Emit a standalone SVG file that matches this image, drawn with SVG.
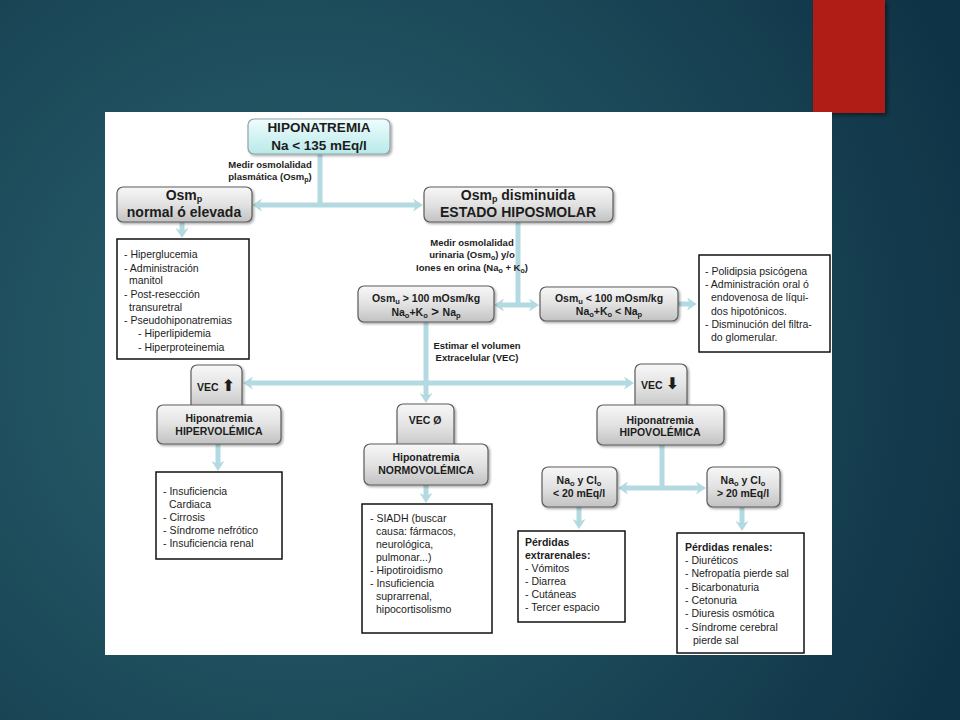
<svg xmlns="http://www.w3.org/2000/svg" width="960" height="720" viewBox="0 0 960 720">
<defs>
<radialGradient id="bg" cx="300" cy="360" r="720" gradientUnits="userSpaceOnUse">
<stop offset="0" stop-color="#2b6470"/>
<stop offset="1" stop-color="#0f3346"/>
</radialGradient>
<linearGradient id="gg" x1="0" y1="0" x2="0" y2="1">
<stop offset="0" stop-color="#f7f7f7"/>
<stop offset="0.5" stop-color="#e2e2e2"/>
<stop offset="1" stop-color="#c2c2c2"/>
</linearGradient>
<linearGradient id="cg" x1="0" y1="0" x2="0" y2="1">
<stop offset="0" stop-color="#effcfc"/>
<stop offset="1" stop-color="#b9e9ea"/>
</linearGradient>
<filter id="sh" x="-10%" y="-10%" width="125%" height="130%">
<feDropShadow dx="1.5" dy="1.5" stdDeviation="1.2" flood-color="#000" flood-opacity="0.35"/>
</filter>
<filter id="rsh" x="-20%" y="-10%" width="140%" height="130%">
<feDropShadow dx="2" dy="2" stdDeviation="2" flood-color="#000" flood-opacity="0.5"/>
</filter>
<marker id="ah" viewBox="0 0 10 13" refX="3" refY="6.5" markerWidth="10" markerHeight="13" markerUnits="userSpaceOnUse" orient="auto">
<path d="M0,0 L10,6.5 L0,13 L3,6.5 z" fill="#b3dae1"/>
</marker>
<style>
.bx{fill:url(#gg);stroke:#5c5c5c;stroke-width:1.2;filter:url(#sh)}
.cy{fill:url(#cg);stroke:#8fa3a5;stroke-width:1.2;filter:url(#sh)}
.ls{fill:#fff;stroke:#111;stroke-width:1.5}
.cn{stroke:#b3dae1;stroke-width:5;fill:none}
.ca{stroke:#b3dae1;stroke-width:5;fill:none;marker-end:url(#ah)}
text{font-family:"Liberation Sans",Arial,sans-serif;fill:#1c1c1c}
.h14{font-size:14px;font-weight:bold;text-anchor:middle}
.h13{font-size:13.5px;font-weight:bold;text-anchor:middle}
.h10{font-size:10.5px;font-weight:bold;text-anchor:middle}
.h9{font-size:9.5px;font-weight:bold;text-anchor:middle}
.t{font-size:10.5px}
.tb{font-size:10.5px;font-weight:bold}
.ar{font-family:"DejaVu Sans",sans-serif;font-size:16px}
</style>
</defs>
<rect width="960" height="720" fill="url(#bg)"/>
<rect x="813" y="0" width="72" height="113" fill="#b01a18" filter="url(#rsh)"/>
<rect x="105" y="112" width="727" height="543" fill="#ffffff"/>

<g id="connectors">
<path class="cn" d="M320,154 V205"/>
<path class="ca" d="M320,205 H259"/>
<path class="ca" d="M320,205 H416"/>
<path class="ca" d="M182,222 V231"/>
<path class="cn" d="M518,222 V305"/>
<path class="ca" d="M518,305 H501"/>
<path class="ca" d="M518,305 H532"/>
<path class="ca" d="M678,304 H690"/>
<path class="ca" d="M426,322 V396"/>
<path class="ca" d="M426,383 H250"/>
<path class="ca" d="M426,383 H627"/>
<path class="ca" d="M218,444 V464"/>
<path class="ca" d="M426,485 V496"/>
<path class="cn" d="M662,445 V488"/>
<path class="ca" d="M662,488 H625"/>
<path class="ca" d="M662,488 H699"/>
<path class="ca" d="M579,507 V522"/>
<path class="ca" d="M742,507 V524"/>
</g>

<g id="lbl-plasma">
<text class="h9" x="270" y="168">Medir osmolalidad</text>
<text class="h9" x="270" y="180">plasmática (Osm<tspan dy="2" font-size="7">p</tspan><tspan dy="-2">)</tspan></text>
</g>
<g id="lbl-urinaria">
<text class="h9" x="472" y="246">Medir osmolalidad</text>
<text class="h9" x="472" y="258">urinaria (Osm<tspan dy="2" font-size="7">o</tspan><tspan dy="-2">) y/o</tspan></text>
<text class="h9" x="472" y="271">Iones en orina (Na<tspan dy="2" font-size="7">o</tspan><tspan dy="-2"> + K</tspan><tspan dy="2" font-size="7">o</tspan><tspan dy="-2">)</tspan></text>
</g>
<g id="lbl-vec">
<text class="h9" x="477" y="349">Estimar el volumen</text>
<text class="h9" x="477" y="361">Extracelular (VEC)</text>
</g>

<g id="n-hiponatremia">
<rect class="cy" x="248" y="119" width="142" height="35" rx="6"/>
<text class="h13" x="319" y="132">HIPONATREMIA</text>
<text class="h13" x="319" y="150">Na &lt; 135 mEq/l</text>
</g>
<g id="n-osm-normal">
<rect class="bx" x="117" y="187" width="135" height="35" rx="6"/>
<text class="h14" x="184" y="200">Osm<tspan dy="2" font-size="9">p</tspan></text>
<text class="h14" x="184" y="217">normal ó elevada</text>
</g>
<g id="n-osm-dism">
<rect class="bx" x="424" y="187" width="189" height="35" rx="6"/>
<text class="h14" x="518" y="200">Osm<tspan dy="2" font-size="9">p</tspan><tspan dy="-2"> disminuida</tspan></text>
<text class="h14" x="518" y="217">ESTADO HIPOSMOLAR</text>
</g>
<g id="n-list-normal">
<rect class="ls" x="117" y="239" width="132" height="120"/>
<text class="t" x="124" y="258">- Hiperglucemia</text>
<text class="t" x="124" y="272">- Administración</text>
<text class="t" x="129" y="284">manitol</text>
<text class="t" x="124" y="298">- Post-resección</text>
<text class="t" x="129" y="311">transuretral</text>
<text class="t" x="124" y="324">- Pseudohiponatremias</text>
<text class="t" x="138" y="337">-  Hiperlipidemia</text>
<text class="t" x="138" y="351">-  Hiperproteinemia</text>
</g>
<g id="n-osmu-may">
<rect class="bx" x="358" y="286" width="136" height="36" rx="6"/>
<text class="h10" x="426" y="302">Osm<tspan dy="2" font-size="7.5">u</tspan><tspan dy="-2"> &gt; 100 mOsm/kg</tspan></text>
<text class="h10" x="426" y="316">Na<tspan dy="2" font-size="7.5">o</tspan><tspan dy="-2">+K</tspan><tspan dy="2" font-size="7.5">o</tspan><tspan dy="-2" font-size="13"> &gt; </tspan>Na<tspan dy="2" font-size="7.5">p</tspan></text>
</g>
<g id="n-osmu-men">
<rect class="bx" x="540" y="287" width="138" height="34" rx="6"/>
<text class="h10" x="609" y="302">Osm<tspan dy="2" font-size="7.5">u</tspan><tspan dy="-2"> &lt; 100 mOsm/kg</tspan></text>
<text class="h10" x="609" y="315">Na<tspan dy="2" font-size="7.5">o</tspan><tspan dy="-2">+K</tspan><tspan dy="2" font-size="7.5">o</tspan><tspan dy="-2"> &lt; Na</tspan><tspan dy="2" font-size="7.5">p</tspan></text>
</g>
<g id="n-list-hipos">
<rect class="ls" x="699" y="255" width="131" height="97"/>
<text class="t" x="705" y="275">- Polidipsia psicógena</text>
<text class="t" x="705" y="288">- Administración oral ó</text>
<text class="t" x="711" y="301">endovenosa de líqui-</text>
<text class="t" x="711" y="315">dos hipotónicos.</text>
<text class="t" x="705" y="328">- Disminución del filtra-</text>
<text class="t" x="711" y="341">do glomerular.</text>
</g>

<g id="n-vec-up">
<rect class="bx" x="191" y="365" width="51" height="46" rx="6"/>
<text class="h10" x="216" y="391">VEC <tspan class="ar">⬆</tspan></text>
</g>
<g id="n-hiper">
<rect class="bx" x="157" y="405" width="124" height="39" rx="6"/>
<text class="h10" x="219" y="422">Hiponatremia</text>
<text class="h10" x="219" y="435">HIPERVOLÉMICA</text>
</g>
<g id="n-list-hiper">
<rect class="ls" x="156" y="472" width="126" height="87"/>
<text class="t" x="163" y="495">- Insuficiencia</text>
<text class="t" x="169" y="508">Cardiaca</text>
<text class="t" x="163" y="521">- Cirrosis</text>
<text class="t" x="163" y="534">- Síndrome nefrótico</text>
<text class="t" x="163" y="547">- Insuficiencia renal</text>
</g>

<g id="n-vec-0">
<rect class="bx" x="397" y="404" width="57" height="46" rx="6"/>
<text class="h10" x="425" y="424">VEC Ø</text>
</g>
<g id="n-normo">
<rect class="bx" x="364" y="444" width="124" height="41" rx="6"/>
<text class="h10" x="426" y="461">Hiponatremia</text>
<text class="h10" x="426" y="474">NORMOVOLÉMICA</text>
</g>
<g id="n-list-normo">
<rect class="ls" x="362" y="504" width="130" height="129"/>
<text class="t" x="370" y="522">- SIADH (buscar</text>
<text class="t" x="376" y="535">causa: fármacos,</text>
<text class="t" x="376" y="548">neurológica,</text>
<text class="t" x="376" y="561">pulmonar...)</text>
<text class="t" x="370" y="574">- Hipotiroidismo</text>
<text class="t" x="370" y="587">- Insuficiencia</text>
<text class="t" x="376" y="600">suprarrenal,</text>
<text class="t" x="376" y="613">hipocortisolismo</text>
</g>

<g id="n-vec-down">
<rect class="bx" x="635" y="364" width="52" height="46" rx="6"/>
<text class="h10" x="660" y="389">VEC <tspan class="ar">⬇</tspan></text>
</g>
<g id="n-hipo">
<rect class="bx" x="597" y="405" width="127" height="40" rx="6"/>
<text class="h10" x="660" y="424">Hiponatremia</text>
<text class="h10" x="660" y="436">HIPOVOLÉMICA</text>
</g>
<g id="n-na-men">
<rect class="bx" x="542" y="467" width="75" height="40" rx="6"/>
<text class="h10" x="579" y="484">Na<tspan dy="2" font-size="7.5">o</tspan><tspan dy="-2"> y Cl</tspan><tspan dy="2" font-size="7.5">o</tspan></text>
<text class="h10" x="579" y="497">&lt; 20 mEq/l</text>
</g>
<g id="n-na-may">
<rect class="bx" x="707" y="467" width="73" height="40" rx="6"/>
<text class="h10" x="743" y="484">Na<tspan dy="2" font-size="7.5">o</tspan><tspan dy="-2"> y Cl</tspan><tspan dy="2" font-size="7.5">o</tspan></text>
<text class="h10" x="743" y="497">&gt; 20 mEq/l</text>
</g>
<g id="n-list-extra">
<rect class="ls" x="518" y="531" width="107" height="91"/>
<text class="tb" x="525" y="546">Pérdidas</text>
<text class="tb" x="525" y="559">extrarenales:</text>
<text class="t" x="525" y="572">- Vómitos</text>
<text class="t" x="525" y="585">- Diarrea</text>
<text class="t" x="525" y="598">- Cutáneas</text>
<text class="t" x="525" y="611">- Tercer espacio</text>
</g>
<g id="n-list-renal">
<rect class="ls" x="677" y="533" width="127" height="120"/>
<text class="tb" x="685" y="551">Pérdidas renales:</text>
<text class="t" x="685" y="564">- Diuréticos</text>
<text class="t" x="685" y="577">- Nefropatía pierde sal</text>
<text class="t" x="685" y="591">- Bicarbonaturia</text>
<text class="t" x="685" y="604">- Cetonuria</text>
<text class="t" x="685" y="617">- Diuresis osmótica</text>
<text class="t" x="685" y="631">- Síndrome cerebral</text>
<text class="t" x="693" y="644">pierde sal</text>
</g>
</svg>
